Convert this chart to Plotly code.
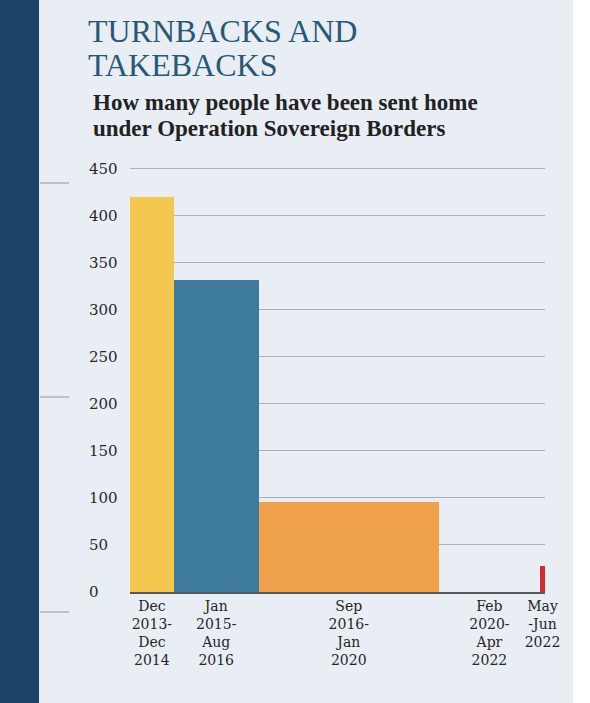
import plotly.graph_objects as go

# ---- data ----
period_labels = [
    "Dec<br>2013-<br>Dec<br>2014",
    "Jan<br>2015-<br>Aug<br>2016",
    "Sep<br>2016-<br>Jan<br>2020",
    "Feb<br>2020-<br>Apr<br>2022",
    "May<br>-Jun<br>2022",
]
people_sent_home = [420, 332, 96, 0, 28]
period_widths = [43.6, 84.9, 179.8, 101.0, 5.0]   # relative length of each period on the x axis
bar_colors = ["#f4c84f", "#3d7a9b", "#f0a14b", "#3d7a9b", "#d62b2e"]
y_ticks = [0, 50, 100, 150, 200, 250, 300, 350, 400, 450]

title_lines = ["TURNBACKS AND", "TAKEBACKS"]
subtitle_lines = ["How many people have been sent home", "under Operation Sovereign Borders"]

# ---- derived positions ----
centers = []
start = 0.0
for w in period_widths:
    centers.append(start + w / 2)
    start += w
x_total = start

W, H = 590, 703
L, R, T, B = 130, 45, 164, 111
plot_w = W - L - R
plot_h = H - T - B


def px_x(px):
    return (px - L) / plot_w


def px_y(py):
    return (H - B - py) / plot_h


fig = go.Figure()
fig.add_trace(go.Bar(
    x=centers,
    y=people_sent_home,
    width=period_widths,
    marker=dict(color=bar_colors, line=dict(width=0)),
    hoverinfo="skip",
))

shapes = [
    dict(type="rect", xref="paper", yref="paper", x0=px_x(-2), x1=px_x(39), y0=px_y(H + 5), y1=px_y(-5),
         fillcolor="#1c4467", line=dict(width=0), layer="below"),
    dict(type="rect", xref="paper", yref="paper", x0=px_x(573), x1=px_x(W + 5), y0=px_y(H + 5), y1=px_y(-5),
         fillcolor="#ffffff", line=dict(width=0), layer="below"),
]
for py in (183, 397, 612):
    shapes.append(dict(type="line", xref="paper", yref="paper", x0=px_x(40), x1=px_x(69),
                       y0=px_y(py), y1=px_y(py), line=dict(color="#8e959d", width=1), layer="below"))

annotations = []
for i, t in enumerate(title_lines):
    annotations.append(dict(text=t, xref="paper", yref="paper", x=px_x(86), y=px_y(31 + 34 * i),
                            xanchor="left", yanchor="middle", showarrow=False,
                            font=dict(family="Liberation Serif", size=32, color="#285877")))
for i, t in enumerate(subtitle_lines):
    annotations.append(dict(text="<b>" + t + "</b>", xref="paper", yref="paper", x=px_x(91), y=px_y(103 + 25 * i),
                            xanchor="left", yanchor="middle", showarrow=False,
                            font=dict(family="Liberation Serif", size=23, color="#222222")))
for v in y_ticks:
    annotations.append(dict(text=str(v), xref="paper", yref="y", x=px_x(87), y=v,
                            xanchor="left", yanchor="middle", showarrow=False,
                            font=dict(family="DejaVu Serif", size=15, color="#282828")))

fig.update_layout(
    width=W, height=H,
    margin=dict(l=L, r=R, t=T, b=B, pad=0),
    paper_bgcolor="#e8eef4",
    plot_bgcolor="rgba(0,0,0,0)",
    showlegend=False,
    bargap=0,
    shapes=shapes,
    annotations=annotations,
    xaxis=dict(
        range=[0, x_total],
        tickmode="array", tickvals=centers, ticktext=period_labels,
        tickfont=dict(family="DejaVu Serif", size=14, color="#262626"),
        showgrid=False, zeroline=False,
        showline=True, linecolor="#555a5e", linewidth=2,
        ticks="", fixedrange=True,
    ),
    yaxis=dict(
        range=[0, 455],
        tickmode="array", tickvals=y_ticks,
        showticklabels=False,
        showgrid=True, gridcolor="#a7afb8", gridwidth=1,
        zeroline=False, showline=False, ticks="",
        fixedrange=True,
    ),
)

fig.write_html("out.html", config={"displayModeBar": False},
               post_script="document.body.style.margin='0';document.body.style.overflow='hidden';")
